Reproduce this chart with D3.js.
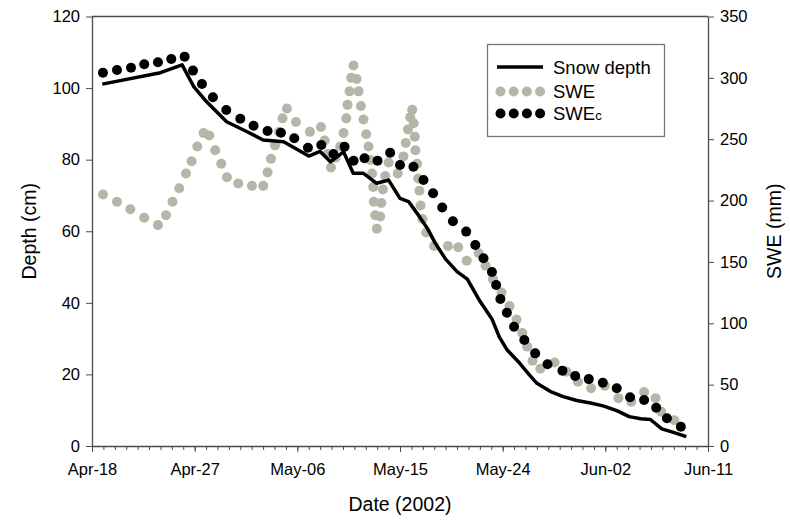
<!DOCTYPE html>
<html>
<head>
<meta charset="utf-8">
<script src="https://cdn.jsdelivr.net/npm/d3@7"></script>
<style>
  body { margin: 0; background: #fff; }
  text { font-family: "Liberation Sans", Arial, sans-serif; fill: #000; }
</style>
</head>
<body>
<svg id="chart" width="790" height="521"></svg>
<script>
// days after Apr-18 2002, and values
const depthDays = [0.9, 6.0, 7.9, 8.9, 9.9, 11.8, 13.6, 15.0, 16.8, 19.0, 20.0, 20.9, 22.05, 22.9, 23.8, 24.95, 26.0, 27.0, 27.75, 28.5, 29.4, 30.1, 31.0, 32.0, 32.9, 34.0, 35.06, 35.7, 36.4, 37.5, 38.3, 39.0, 40.2, 41.3, 42.5, 43.7, 44.8, 46.0, 47.1, 48.1, 48.95, 49.95, 50.97, 52.1];
const depthCm = [101.1, 104.3, 106.5, 100.5, 96.7, 90.6, 87.8, 85.5, 85.0, 81.0, 82.3, 79.4, 82.2, 76.2, 76.2, 73.4, 74.3, 69.2, 68.3, 65.0, 60.8, 56.6, 52.2, 48.7, 46.6, 40.5, 35.5, 30.5, 26.8, 23.1, 20.0, 17.5, 15.2, 13.8, 12.7, 12.0, 11.2, 9.9, 8.2, 7.6, 7.4, 4.8, 3.8, 2.6];

const sweDays = [0.96, 2.19, 3.36, 4.58, 5.78, 6.49, 7.06, 7.65, 8.24, 8.73, 9.23, 9.78, 10.28, 10.8, 11.33, 11.83, 12.82, 14.02, 15.01, 15.39, 15.69, 16.04, 16.4, 16.7, 17.09, 17.88, 19.1, 20.07, 20.4, 20.65, 20.95, 21.35, 21.76, 22.05, 22.29, 22.4, 22.58, 22.72, 22.93, 23.2, 23.37, 23.57, 23.8, 24.04, 24.24, 24.4, 24.55, 24.65, 24.7, 24.83, 24.97, 25.27, 25.36, 25.5, 25.7, 26.0, 26.8, 27.3, 27.5, 27.7, 27.9, 28.07, 28.2, 28.3, 28.35, 28.5, 28.6, 28.7, 28.8, 28.97, 29.3, 30.0, 31.2, 32.1, 32.85, 33.9, 34.5, 35.15, 35.9, 36.6, 37.22, 37.72, 38.15, 38.62, 39.3, 40.55, 41.6, 42.6, 43.75, 44.95, 46.15, 47.27, 48.4, 49.4, 49.9, 51.05];
const sweMm = [205, 199, 193, 186, 180, 188, 199, 210, 222, 232, 244, 255, 253, 241, 230, 219, 214, 212, 212, 223, 234, 245, 256, 267, 275, 264, 256, 260, 249, 238, 227, 235, 244, 255, 267, 278, 289, 300, 310, 299, 289, 277, 266, 254, 244, 233, 222, 211, 199, 188, 177, 187, 198, 209, 220, 231, 222, 236, 247, 258, 268, 274, 263, 252, 241, 230, 218, 208, 196, 185, 174, 163, 163, 162, 151, 157, 147, 136, 125, 114, 103, 92, 81, 69.5, 63, 68, 60.6, 52.4, 47, 49, 39, 36, 44, 39, 28, 21];

const swecDays = [0.96, 2.19, 3.42, 4.58, 5.78, 6.95, 8.12, 8.85, 9.64, 10.6, 11.77, 13.0, 14.16, 15.39, 16.56, 17.73, 18.93, 20.1, 21.17, 22.14, 22.93, 23.89, 25.03, 26.14, 27.0, 28.18, 29.06, 29.9, 30.7, 31.64, 32.8, 33.6, 34.32, 35.06, 35.43, 35.8, 36.37, 37.0, 37.9, 38.85, 39.93, 41.24, 42.36, 43.55, 44.78, 46.0, 47.17, 48.4, 49.46, 50.4, 51.62];
const swecMm = [304.2, 306.4, 308.3, 311.1, 312.7, 315.4, 317.3, 305.9, 295, 284.2, 273.8, 266.7, 261, 256.7, 255.3, 250.8, 243.1, 245.3, 238, 243.9, 232.5, 234.5, 232.5, 239, 229, 227.6, 216.8, 206, 194.3, 183.2, 174.7, 163.8, 153, 141.8, 131.2, 119.8, 108.6, 97.2, 86.4, 75.5, 66.6, 61.4, 57, 54.5, 51.6, 47, 39.7, 37.5, 31.2, 22.6, 15.7];

const dateTicks = ["Apr-18", "Apr-27", "May-06", "May-15", "May-24", "Jun-02", "Jun-11"];
const depthTicks = [0, 20, 40, 60, 80, 100, 120];
const sweTicks = [0, 50, 100, 150, 200, 250, 300, 350];
const seriesNames = ["Snow depth", "SWE", "SWE"];

const LEFT = 92, RIGHT = 708, TOP = 16.5, BOTTOM = 446;
const AXIS_COLOR = "#4a4a4a";
const GREY = "#b6b6a8";

const parseTick = d3.timeParse("%Y %b-%d");
const tickDates = dateTicks.map(s => parseTick("2002 " + s));
const START = tickDates[0];
const toDate = d => new Date(+START + d * 864e5);

const svg = d3.select("#chart");

const x = d3.scaleTime().domain([START, tickDates[tickDates.length - 1]]).range([LEFT, RIGHT]);
const yDepth = d3.scaleLinear().domain([0, 120]).range([BOTTOM, TOP]);
const ySwe = d3.scaleLinear().domain([0, 350]).range([BOTTOM, TOP]);

// frame top line
svg.append("line")
  .attr("x1", LEFT).attr("x2", RIGHT)
  .attr("y1", TOP).attr("y2", TOP)
  .attr("stroke", AXIS_COLOR).attr("stroke-width", 1.3);

// minor day ticks
svg.append("g")
  .attr("transform", `translate(0,${BOTTOM})`)
  .call(d3.axisBottom(x).ticks(d3.timeDay.every(1)).tickSize(4).tickFormat(""))
  .call(g => g.select(".domain").remove())
  .attr("color", AXIS_COLOR);

// x axis
svg.append("g")
  .attr("transform", `translate(0,${BOTTOM})`)
  .call(d3.axisBottom(x).tickValues(tickDates).tickSize(6).tickSizeOuter(0).tickPadding(11)
    .tickFormat(d3.timeFormat("%b-%d")))
  .attr("color", AXIS_COLOR)
  .call(g => g.selectAll("text").attr("font-size", 16.5).attr("fill", "#000"))
  .call(g => g.select(".domain").attr("stroke-width", 1.3));

// left axis
svg.append("g")
  .attr("transform", `translate(${LEFT},0)`)
  .call(d3.axisLeft(yDepth).tickValues(depthTicks).tickSize(6).tickSizeOuter(0).tickPadding(6))
  .attr("color", AXIS_COLOR)
  .call(g => g.selectAll("text").attr("font-size", 16.5).attr("fill", "#000"))
  .call(g => g.select(".domain").attr("stroke-width", 1.3));

// right axis
svg.append("g")
  .attr("transform", `translate(${RIGHT},0)`)
  .call(d3.axisRight(ySwe).tickValues(sweTicks).tickSize(6).tickSizeOuter(0).tickPadding(6))
  .attr("color", AXIS_COLOR)
  .call(g => g.selectAll("text").attr("font-size", 16.5).attr("fill", "#000"))
  .call(g => g.select(".domain").attr("stroke-width", 1.3));

// axis titles
svg.append("text")
  .attr("x", (LEFT + RIGHT) / 2).attr("y", 511)
  .attr("text-anchor", "middle").attr("font-size", 19.5)
  .text("Date (2002)");

svg.append("text")
  .attr("transform", `translate(36,${(TOP + BOTTOM) / 2}) rotate(-90)`)
  .attr("text-anchor", "middle").attr("font-size", 19.5)
  .text("Depth (cm)");

svg.append("text")
  .attr("transform", `translate(781,${(TOP + BOTTOM) / 2}) rotate(-90)`)
  .attr("text-anchor", "middle").attr("font-size", 19.5)
  .text("SWE (mm)");

// SWE measured
svg.append("g").selectAll("circle")
  .data(d3.zip(sweDays, sweMm))
  .join("circle")
  .attr("cx", d => x(toDate(d[0])))
  .attr("cy", d => ySwe(d[1]))
  .attr("r", 5)
  .attr("fill", GREY);

// snow depth
const line = d3.line()
  .x(d => x(toDate(d[0])))
  .y(d => yDepth(d[1]));

svg.append("path")
  .datum(d3.zip(depthDays, depthCm))
  .attr("d", line)
  .attr("fill", "none")
  .attr("stroke", "#000")
  .attr("stroke-width", 3.5)
  .attr("stroke-linejoin", "round");

// SWE computed
svg.append("g").selectAll("circle")
  .data(d3.zip(swecDays, swecMm))
  .join("circle")
  .attr("cx", d => x(toDate(d[0])))
  .attr("cy", d => ySwe(d[1]))
  .attr("r", 5)
  .attr("fill", "#000");

// legend
const legend = svg.append("g");
legend.append("rect")
  .attr("x", 487.5).attr("y", 44.5).attr("width", 177).attr("height", 92)
  .attr("fill", "#fff").attr("stroke", "#777").attr("stroke-width", 1.3);

legend.append("line")
  .attr("x1", 497).attr("x2", 543).attr("y1", 67).attr("y2", 67)
  .attr("stroke", "#000").attr("stroke-width", 3.5);

[0, 1, 2, 3].forEach(i => {
  legend.append("circle").attr("cx", 500.5 + i * 13.2).attr("cy", 91.5).attr("r", 5).attr("fill", GREY);
  legend.append("circle").attr("cx", 500.5 + i * 13.2).attr("cy", 113.5).attr("r", 5).attr("fill", "#000");
});

legend.append("text").attr("x", 553).attr("y", 73.5).attr("font-size", 18.5).text(seriesNames[0]);
legend.append("text").attr("x", 553).attr("y", 97.5).attr("font-size", 18.5).text(seriesNames[1]);
const t3 = legend.append("text").attr("x", 553).attr("y", 119.5).attr("font-size", 18.5).text(seriesNames[2]);
t3.append("tspan").attr("font-size", 13).text("c");
</script>
</body>
</html>
